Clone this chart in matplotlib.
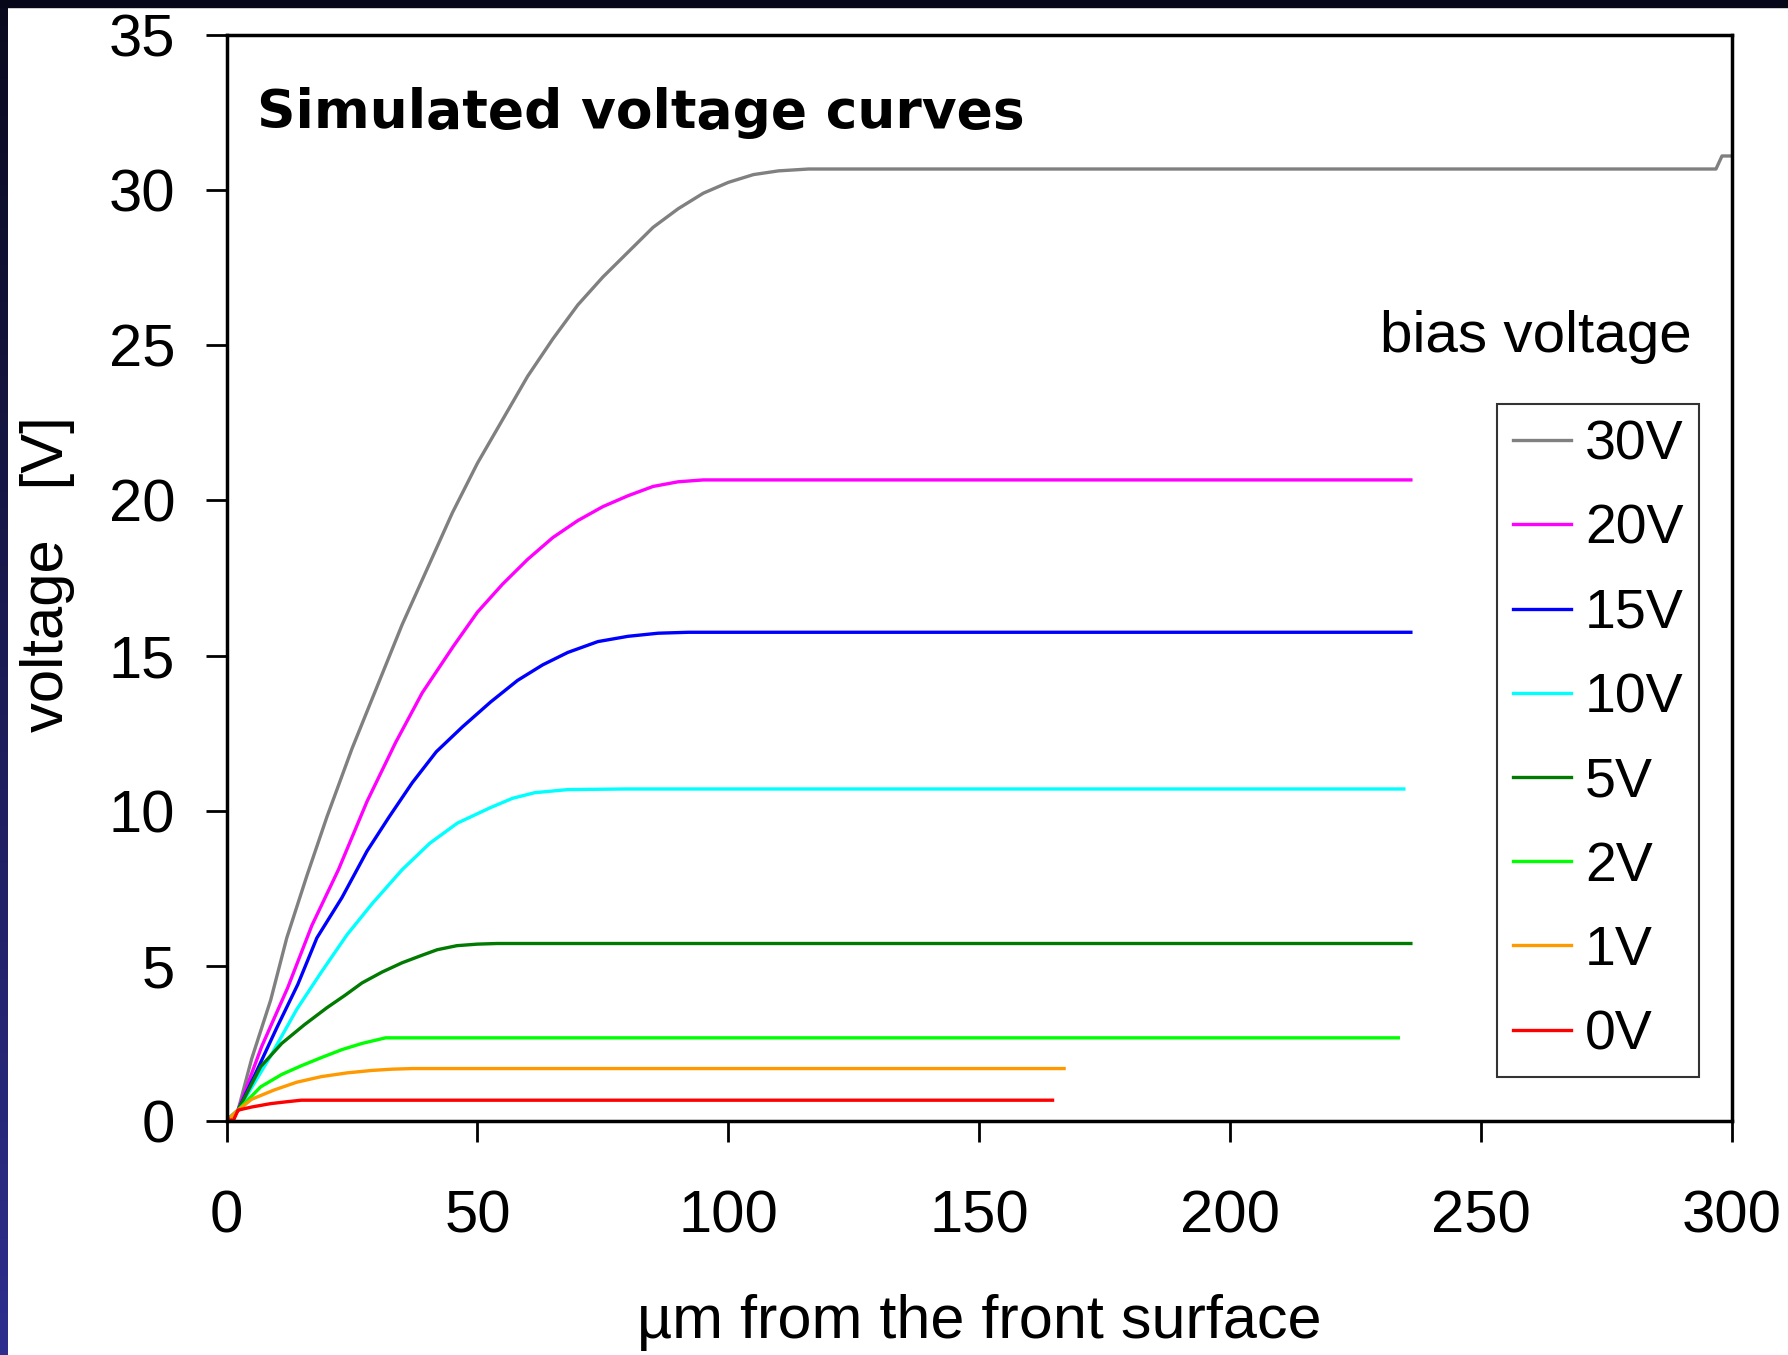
import numpy as np
import matplotlib.pyplot as plt
from matplotlib.patches import Rectangle
from matplotlib.colors import LinearSegmentedColormap

# depth from the front surface [um] and simulated voltage [V]
x30 = [0, 2.3, 5, 8.8, 12, 16, 20, 25, 30, 35, 40, 45, 50, 55, 60, 65, 70, 75, 80, 85, 90, 95,
       100, 105, 110, 116, 296.8, 298.0, 300]
v30 = [0, 0.35, 2.0, 3.9, 5.9, 7.9, 9.8, 12.0, 14.0, 16.0, 17.8, 19.6, 21.2, 22.6, 24.0, 25.2,
       26.3, 27.2, 28.0, 28.8, 29.4, 29.9, 30.25, 30.5, 30.62, 30.68, 30.68, 31.1, 31.1]

x20 = [0, 2.3, 7, 12.2, 17, 22.3, 28, 33.7, 39, 45.2, 50, 55, 60, 65, 70, 75, 80, 85, 90, 95, 236]
v20 = [0, 0.35, 2.4, 4.3, 6.3, 8.1, 10.3, 12.2, 13.8, 15.3, 16.4, 17.3, 18.1, 18.8, 19.35, 19.8,
       20.15, 20.45, 20.6, 20.66, 20.66]

x15 = [0, 2.3, 5.4, 10, 14.2, 18, 23, 28, 32.4, 37, 41.8, 47, 52.6, 58, 63, 68, 74, 80, 86, 92, 236]
v15 = [0, 0.35, 1.4, 3.0, 4.4, 5.9, 7.2, 8.7, 9.8, 10.9, 11.9, 12.7, 13.5, 14.2, 14.7, 15.1,
       15.45, 15.62, 15.72, 15.75, 15.75]

x10 = [0, 2.3, 8.8, 14, 18.9, 24, 29, 35, 40.5, 46, 52.6, 57, 61.4, 68, 79.6, 234.6]
v10 = [0, 0.35, 2.1, 3.6, 4.8, 6.0, 7.0, 8.1, 8.95, 9.6, 10.1, 10.4, 10.58, 10.68, 10.7, 10.7]

x5 = [0, 2.3, 6.8, 11, 15.5, 20, 23.6, 27, 31, 35, 39.1, 42, 45.9, 50, 53.9, 236]
v5 = [0, 0.35, 1.75, 2.5, 3.1, 3.65, 4.05, 4.45, 4.8, 5.1, 5.35, 5.52, 5.65, 5.7, 5.72, 5.72]

x2 = [0, 2.3, 6.8, 11, 14.9, 19, 23, 27, 31.7, 233.5]
v2 = [0, 0.35, 1.1, 1.5, 1.78, 2.05, 2.3, 2.5, 2.68, 2.68]

x1 = [0, 2.3, 5, 9.5, 14, 18.9, 24, 29, 33, 37.1, 166.9]
v1 = [0, 0.35, 0.7, 1.0, 1.25, 1.43, 1.55, 1.63, 1.67, 1.69, 1.69]

x0 = [0, 0.4, 1.4, 2.3, 5, 8.8, 12, 14.9, 164.6]
v0 = [0.25, 0.03, 0.03, 0.35, 0.45, 0.56, 0.62, 0.67, 0.67]

curves = [(x30, v30), (x20, v20), (x15, v15), (x10, v10), (x5, v5), (x2, v2), (x1, v1), (x0, v0)]
labels = ['30V', '20V', '15V', '10V', '5V', '2V', '1V', '0V']
colors = ['#808080', '#FF00FF', '#0000FF', '#00FFFF', '#007A00', '#00FF00', '#FF9900', '#FF0000']

plt.rcParams['font.family'] = ['Liberation Sans', 'DejaVu Sans']

fig = plt.figure(figsize=(17.88, 13.55), dpi=100)
ax = fig.add_axes([0.1267, 0.1727, 0.842, 0.8015])

for (xs, vs), lab, c in zip(curves, labels, colors):
    ax.plot(xs, vs, color=c, lw=2.4, label=lab)

ax.set_xlim(0, 300)
ax.set_ylim(0, 35)
ax.set_xticks(np.arange(0, 301, 50))
ax.set_yticks(np.arange(0, 36, 5))
ax.tick_params(direction='out', length=15, width=2, labelsize=43)
ax.tick_params(axis='x', pad=34)
ax.tick_params(axis='y', pad=22)
for s in ax.spines.values():
    s.set_linewidth(2.5)

ax.set_xlabel('\u00b5m from the front surface', fontsize=44)
ax.xaxis.set_label_coords(0.5, -0.186)
ax.xaxis.label.set_va('center')
ax.set_ylabel('voltage   [V]', fontsize=43)
ax.yaxis.set_label_coords(-0.1186, 0.504)
ax.yaxis.label.set_va('center')

ax.text(0.02, 0.928, 'Simulated voltage curves', transform=ax.transAxes,
        fontsize=38.5, fontweight='bold', family='DejaVu Sans', va='center')
ax.text(0.9735, 0.722, 'bias voltage', transform=ax.transAxes,
        fontsize=42, ha='right', va='center')

leg = ax.legend(loc='upper left', bbox_to_anchor=(0.8439, 0.6602), borderaxespad=0,
                fontsize=40, fancybox=False, frameon=True, edgecolor='black',
                handlelength=1.05, handletextpad=0.25, labelspacing=0.58, borderpad=0.28)
leg.get_frame().set_linewidth(1.5)

# dark slide border on the top and left
fig.patches.append(Rectangle((0, 1 - 7 / 1355), 1, 7 / 1355, transform=fig.transFigure,
                             color='#07071a', zorder=10))
bax = fig.add_axes([0, 0, 8 / 1788, 1])
grad = np.linspace(0, 1, 256).reshape(-1, 1)
cmap = LinearSegmentedColormap.from_list('side', ['#0a0a1e', '#2e2e8e'])
bax.imshow(grad, aspect='auto', cmap=cmap, origin='upper')
bax.axis('off')

fig.savefig('out.png', dpi=100)
